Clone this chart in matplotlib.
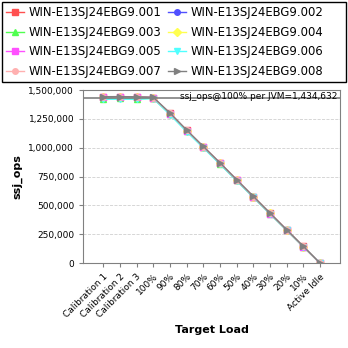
import numpy as np
import matplotlib
matplotlib.use("Agg")
import matplotlib.pyplot as plt
from matplotlib.patches import Rectangle
from matplotlib.ticker import FuncFormatter

labels = ["Calibration 1", "Calibration 2", "Calibration 3", "100%", "90%", "80%",
          "70%", "60%", "50%", "40%", "30%", "20%", "10%", "Active Idle"]

names = ["WIN-E13SJ24EBG9.%03d" % i for i in range(1, 9)]
colors = ["#ff5050", "#5050ff", "#50ff50", "#ffff50", "#ff50ff", "#50ffff", "#ffb0b0", "#808080"]
markers = ["s", "o", "^", "D", "s", "v", "o", ">"]

s1 = [1442000, 1441000, 1440000, 1436000, 1300000, 1152000, 1010000, 868000, 722000, 577000, 432000, 288000, 144000, 0]
s2 = [1440000, 1443000, 1441000, 1435000, 1298000, 1150000, 1008000, 866000, 720000, 575000, 431000, 287000, 143000, 0]
s3 = [1425000, 1428000, 1424000, 1430000, 1292000, 1145000, 1004000, 862000, 717000, 573000, 429000, 286000, 143000, 0]
s4 = [1439000, 1440000, 1438000, 1434000, 1297000, 1149000, 1007000, 865000, 719000, 575000, 431000, 287000, 143000, 0]
s5 = [1437000, 1439000, 1437000, 1433000, 1296000, 1148000, 1006000, 864000, 719000, 574000, 430000, 287000, 143000, 0]
s6 = [1420000, 1422000, 1421000, 1427000, 1288000, 1140000, 1000000, 858000, 714000, 570000, 427000, 284000, 142000, 0]
s7 = [1441000, 1442000, 1440000, 1435000, 1299000, 1151000, 1009000, 867000, 721000, 576000, 432000, 288000, 144000, 0]
s8 = [1443000, 1444000, 1442000, 1438000, 1302000, 1155000, 1012000, 870000, 724000, 579000, 434000, 289000, 145000, 0]
series = [s1, s2, s3, s4, s5, s6, s7, s8]
ref = 1434632

fig = plt.figure(figsize=(3.48, 3.48), dpi=100)
ax = fig.add_axes([0.239, 0.244, 0.738, 0.497])

x = np.arange(len(labels))
handles = []
for s, c, m, n in zip(series, colors, markers, names):
    h, = ax.plot(x, s, color=c, marker=m, markersize=4, linewidth=1.0, label=n)
    handles.append(h)

ax.axhline(ref, color="#808080", linewidth=1.2)
ax.text(0.99, 0.99, "ssj_ops@100% per JVM=1,434,632", transform=ax.transAxes,
        ha="right", va="top", fontsize=6.5)

ax.set_xlim(-1.2, len(labels) + 0.2)
ax.set_ylim(0, 1500000)
ax.set_yticks(np.arange(0, 1500001, 250000))
ax.yaxis.set_major_formatter(FuncFormatter(lambda v, p: "{:,.0f}".format(v)))
ax.set_xticks(x)
ax.set_xticklabels(labels, rotation=45, ha="right", rotation_mode="anchor")
ax.tick_params(labelsize=6.5, color="#808080", length=3)
ax.grid(axis="y", color="#d0d0d0", linestyle="--", linewidth=0.6)
for sp in ax.spines.values():
    sp.set_color("#808080")

ax.set_xlabel("Target Load", fontsize=8, fontweight="bold")
ax.set_ylabel("ssj_ops", fontsize=8, fontweight="bold")

# legend filled row by row, frame drawn separately
order = [0, 2, 4, 6, 1, 3, 5, 7]
fig.legend([handles[i] for i in order], [names[i] for i in order],
           loc="upper left", bbox_to_anchor=(0.0, 1.0),
           ncol=2, fontsize=8.4, frameon=False,
           handlelength=1.5, columnspacing=0.6, handletextpad=0.4, borderpad=0.35,
           labelspacing=0.55, borderaxespad=0.2)
fig.patches.append(Rectangle((2 / 348, 1 - 82 / 348), 344 / 348, 80 / 348,
                             transform=fig.transFigure, fill=False,
                             edgecolor="black", linewidth=1.0))

fig.savefig("out.png", dpi=100)
